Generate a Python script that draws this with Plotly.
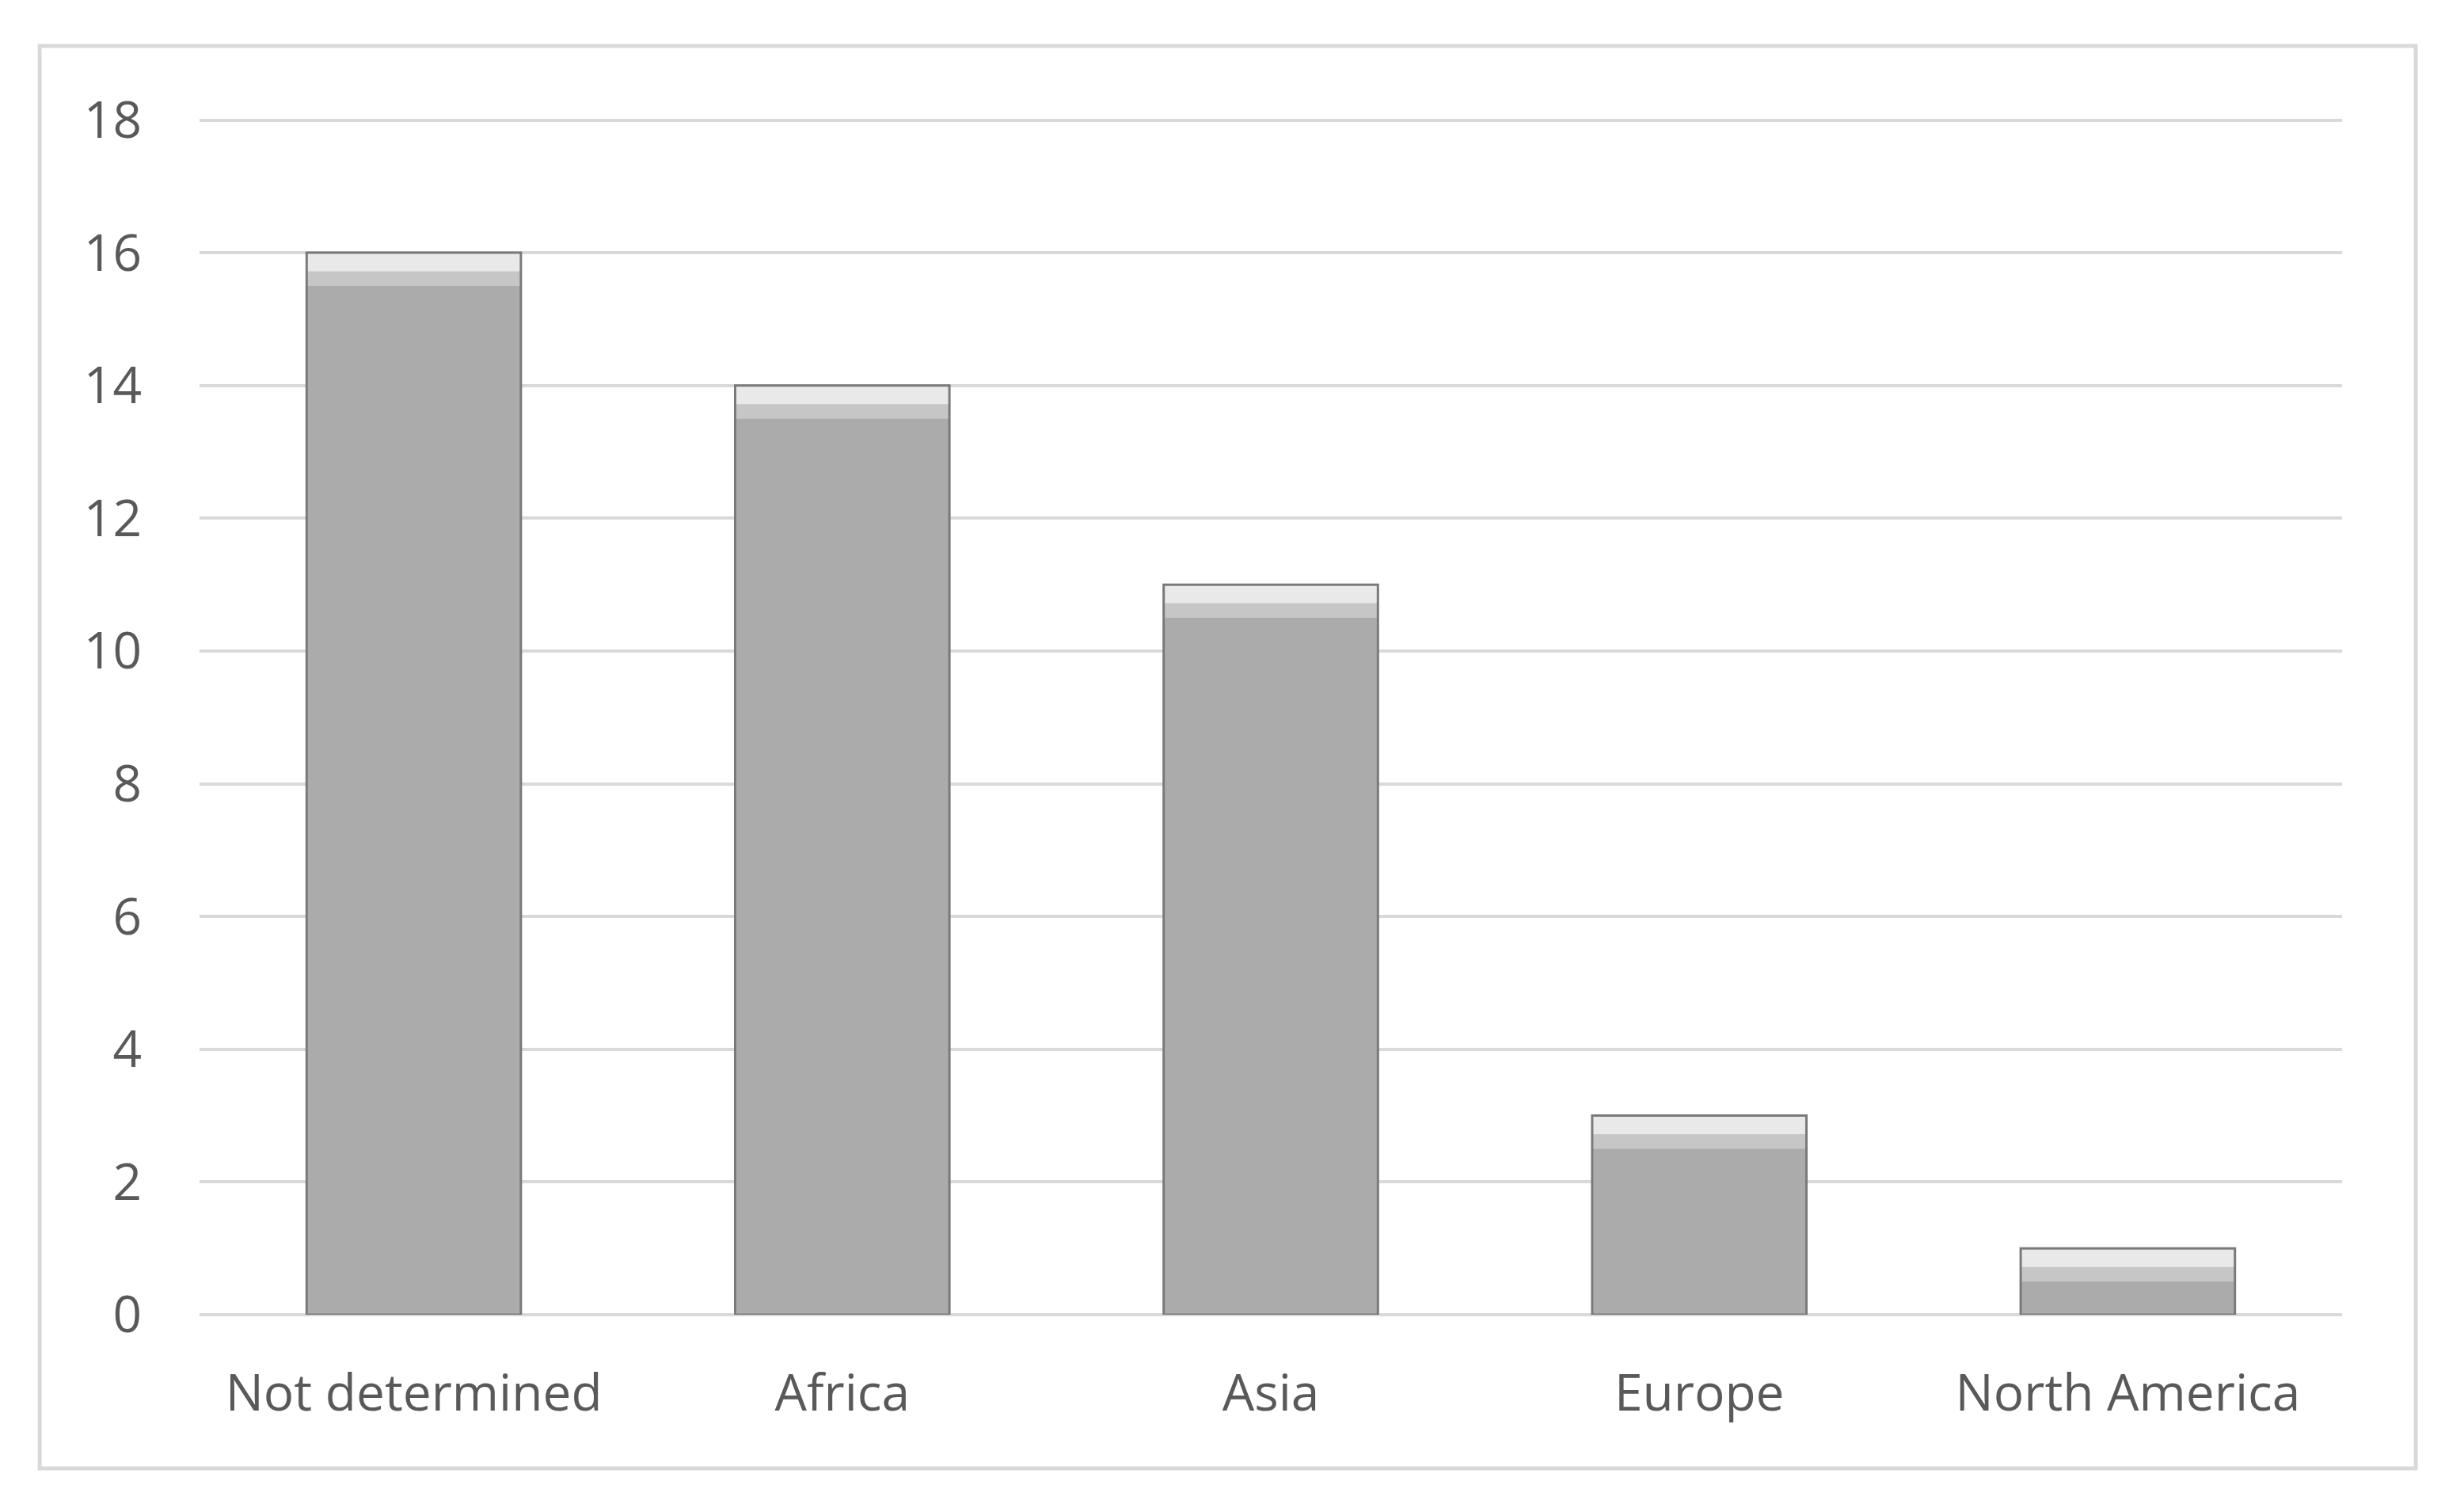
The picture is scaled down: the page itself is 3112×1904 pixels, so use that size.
import plotly.graph_objects as go

# data
regions = ["Not determined", "Africa", "Asia", "Europe", "North America"]
counts = [16, 14, 11, 3, 1]
y_ticks = [0, 2, 4, 6, 8, 10, 12, 14, 16, 18]

# bevel look on top of each bar: (offset below the top, strip height, colour)
bevel_strips = [(0.5, 0.25, "#c6c6c6"), (0.28, 0.28, "#e9e9e9")]

fig = go.Figure()

# main body of each bar
fig.add_trace(go.Bar(
    x=regions,
    y=counts,
    marker=dict(color="#ababab", line=dict(width=0)),
    hoverinfo="x+y",
))

# lighter strips near the top to mimic the bevel
for offset, height, colour in bevel_strips:
    fig.add_trace(go.Bar(
        x=regions,
        y=[height] * len(counts),
        base=[c - offset for c in counts],
        marker=dict(color=colour, line=dict(width=0)),
        hoverinfo="skip",
    ))

# dark outline drawn last so it sits over the strips
fig.add_trace(go.Bar(
    x=regions,
    y=counts,
    marker=dict(color="rgba(0,0,0,0)", line=dict(color="#7a7a7a", width=3)),
    hoverinfo="skip",
))

# grey frame around the whole chart
fig.add_shape(
    type="rect", xref="paper", yref="paper",
    x0=-0.0746, x1=1.0344, y0=-0.1284, y1=1.0602,
    line=dict(color="#d9d9d9", width=5),
    layer="below",
)

fig.update_layout(
    width=3104,
    height=1896,
    margin=dict(l=244, r=154, t=141, b=244),
    paper_bgcolor="white",
    plot_bgcolor="white",
    barmode="overlay",
    bargap=0.5,
    showlegend=False,
    font=dict(family="Open Sans", size=64, color="#595959"),
)

fig.update_xaxes(
    showgrid=False,
    showline=False,
    ticks="",
    ticklabelstandoff=56,
    tickfont=dict(size=64, color="#595959"),
)

fig.update_yaxes(
    range=[0, 18.03],
    tickvals=y_ticks,
    showgrid=True,
    gridcolor="#d9d9d9",
    gridwidth=4,
    zeroline=True,
    zerolinecolor="#d9d9d9",
    zerolinewidth=4,
    showline=False,
    ticks="",
    ticklabelstandoff=72,
    tickfont=dict(size=64, color="#595959"),
)

fig.write_html("out.html")
